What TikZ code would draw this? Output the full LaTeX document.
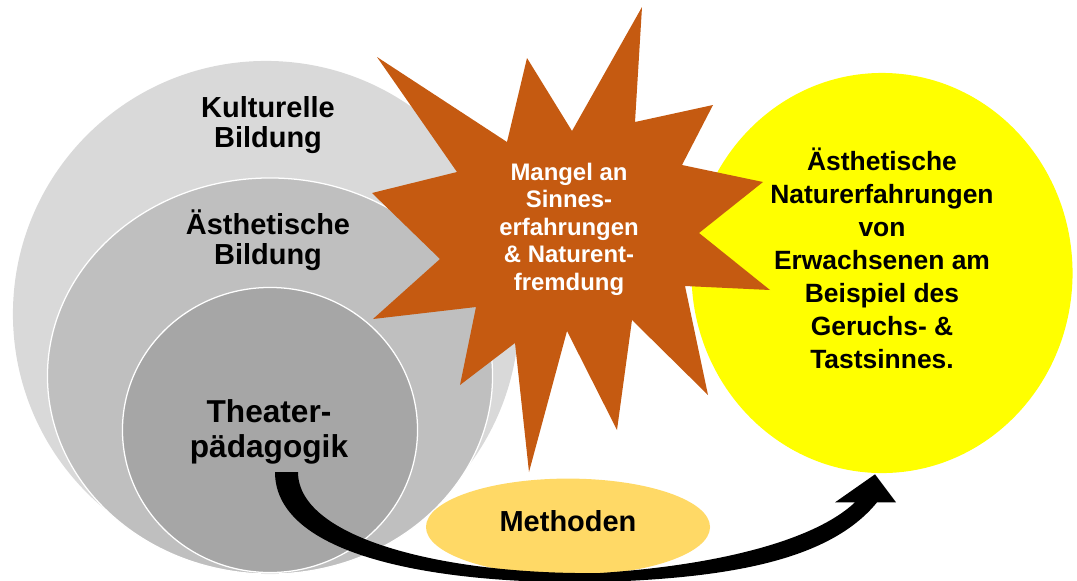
\documentclass[tikz,border=0pt]{standalone}
\usepackage{fontspec}
\setmainfont{Liberation Sans}
\usetikzlibrary{shapes.geometric,calc}
\definecolor{hellgrau}{HTML}{D9D9D9}
\definecolor{mittelgrau}{HTML}{BFBFBF}
\definecolor{dunkelgrau}{HTML}{A6A6A6}
\definecolor{sternorange}{HTML}{C55A11}
\definecolor{methodengelb}{HTML}{FFD966}
\definecolor{naturgelb}{HTML}{FFFF00}
\begin{document}
\begin{tikzpicture}[x=0.025cm, y=-0.025cm,
  kreis/.style={ellipse, inner sep=0pt},
  rand/.style={draw=white, line width=0.9pt},
  titel/.style={align=center, inner sep=0pt}]
\useasboundingbox (0,0) rectangle (1077,580);
\node[kreis, fill=hellgrau, minimum width=12.65cm, minimum height=12.65cm] (kultur) at (266,314) {};
\node[kreis, rand, fill=mittelgrau, minimum width=11.125cm, minimum height=9.9cm] (aesthetik) at (270,376) {};
\node[kreis, rand, fill=dunkelgrau, minimum width=7.375cm, minimum height=7.125cm] (theater) at (270,430) {};
\node[kreis, fill=naturgelb, minimum width=9.525cm, minimum height=10cm] (natur) at (882,273) {};
\node[kreis, fill=methodengelb, minimum width=7.1cm, minimum height=2.42cm] (methoden) at (568,527) {};
\fill[sternorange] (377,57) -- (507,142) -- (527,58) -- (572,131) -- (642,7) -- (635,122)
  -- (713,105) -- (682,165) -- (763,182) -- (699,233) -- (770,290) -- (685,286)
  -- (708,395) -- (632,320) -- (617,430) -- (567,331) -- (529,472) -- (515,343)
  -- (460,385) -- (476,307) -- (373,319) -- (440,259) -- (372,193) -- (457,172) -- cycle;
\node[titel, font=\bfseries\fontsize{20.6}{21.3}\selectfont] (kulturtext) at (268,125) {Kulturelle\\Bildung};
\node[titel, font=\bfseries\fontsize{20.6}{21.3}\selectfont] (aesthetiktext) at (268,240) {Ästhetische\\Bildung};
\node[titel, font=\bfseries\fontsize{22.5}{24.9}\selectfont] (theatertext) at (269,432) {Theater-\\pädagogik};
\node[titel, text=white, font=\bfseries\fontsize{17}{19.6}\selectfont] (mangel) at (569,229) {Mangel an\\Sinnes-\\erfahrungen\\\& Naturent-\\fremdung};
\node[titel, font=\bfseries\fontsize{18.8}{23.5}\selectfont] (naturtext) at (882,258) {Ästhetische\\Naturerfahrungen\\von\\Erwachsenen am\\Beispiel des\\Geruchs- \&\\Tastsinnes.};
\node[titel, font=\bfseries\fontsize{20.6}{21.3}\selectfont] (methodentext) at (568,521) {Methoden};
\coordinate (von) at ($(theater.center)+(16,42)$);
\coordinate (nach) at ($(natur.south)+(-7,1)$);
\fill[black] ($(von)+(-11,0)$) .. controls ($(von)+(-11,88)$) and (450,585) .. (600,582)
  .. controls (730,578) and (830,560) .. ($(nach)+(2,28)$) -- ($(nach)+(21,28)$) -- (nach)
  -- ($(nach)+(-40,28)$) -- ($(nach)+(-20,28)$) .. controls (815,540) and (720,565) .. (600,573)
  .. controls (450,575) and ($(von)+(12,68)$) .. ($(von)+(12,0)$) -- cycle;
\end{tikzpicture}
\end{document}
